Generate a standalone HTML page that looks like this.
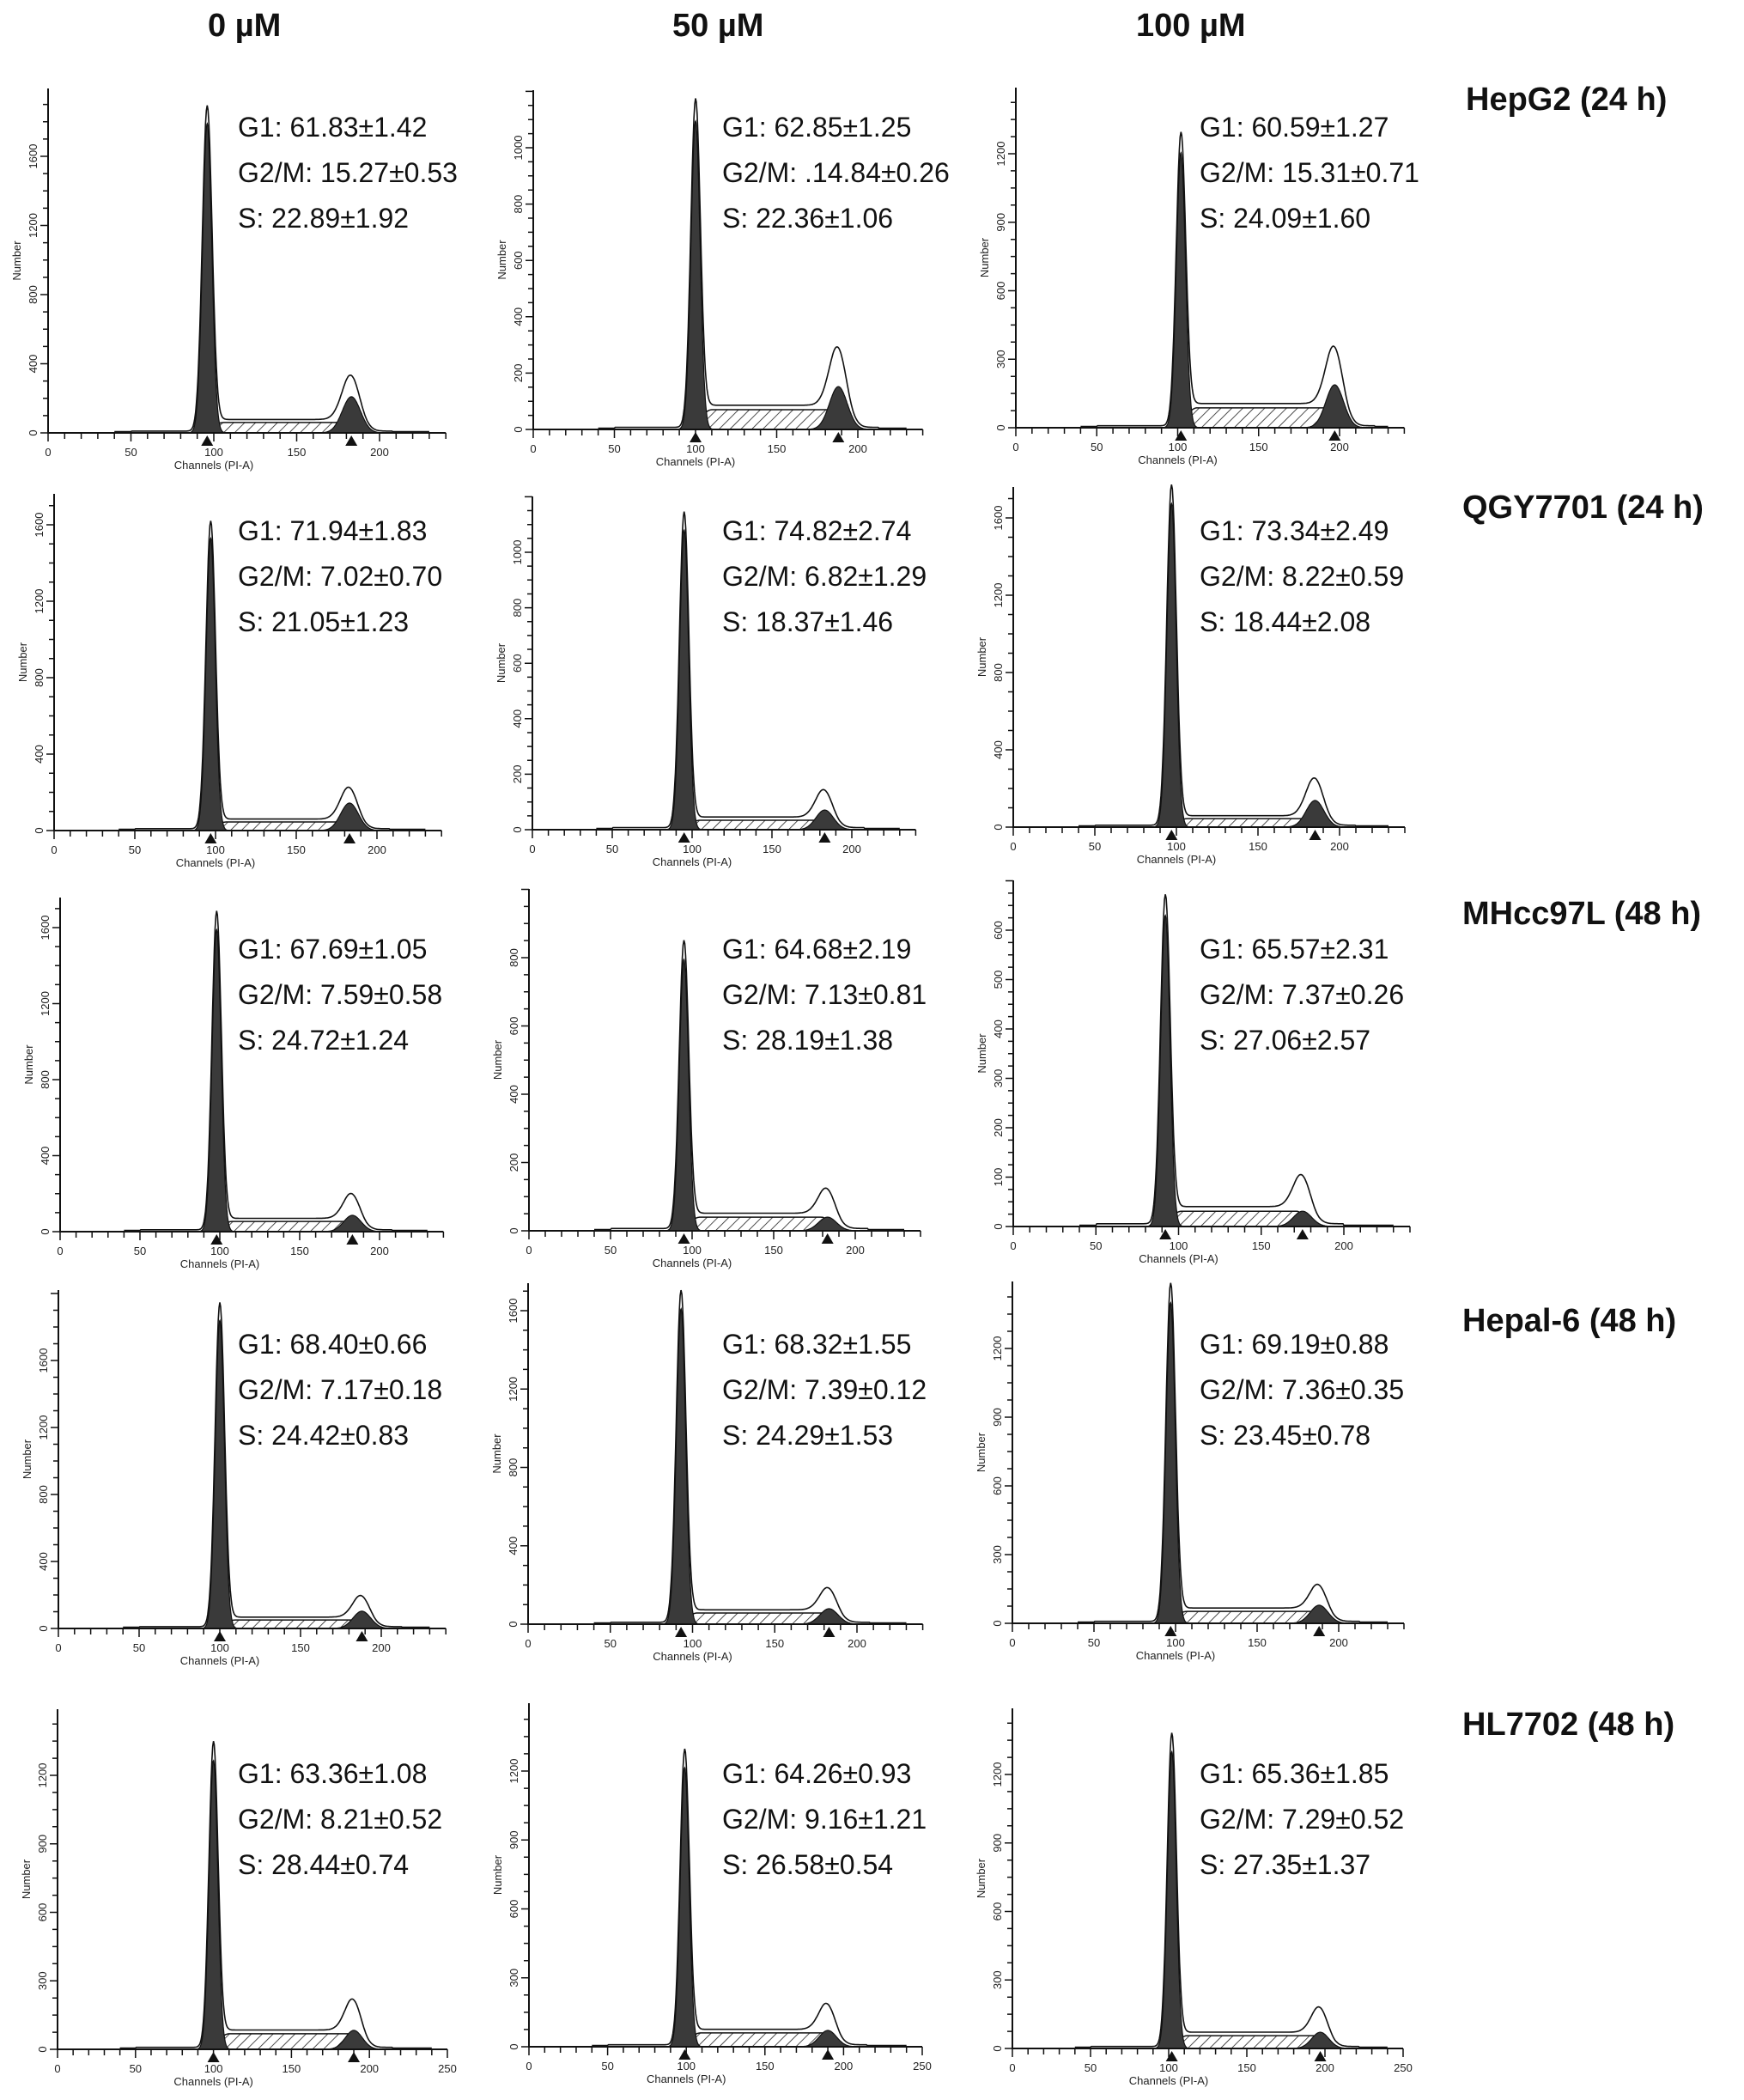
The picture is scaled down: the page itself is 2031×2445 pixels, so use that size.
<!DOCTYPE html>
<html><head><meta charset="utf-8"><style>
html,body{margin:0;padding:0;background:#fff;}
svg{display:block;font-family:"Liberation Sans",Arial,sans-serif;}
</style></head><body>
<svg id="fig" width="2031" height="2445" viewBox="0 0 2031 2445">
<defs>
<pattern id="hatch" patternUnits="userSpaceOnUse" width="9" height="9" patternTransform="rotate(45)">
<rect width="9" height="9" fill="#fff"/><line x1="0" y1="0" x2="0" y2="9" stroke="#222" stroke-width="1.6"/>
</pattern>
</defs>
<g font-weight="bold" font-size="38" fill="#111">
<text x="242" y="42">0 µM</text>
<text x="783" y="42">50 µM</text>
<text x="1323" y="42">100 µM</text>
<text x="1707" y="128">HepG2 (24 h)</text>
<text x="1703" y="603">QGY7701 (24 h)</text>
<text x="1703" y="1076">MHcc97L (48 h)</text>
<text x="1703" y="1550">Hepal-6 (48 h)</text>
<text x="1703" y="2020">HL7702 (48 h)</text>
</g>
<g id="panels"></g>
</svg>
<script>
// Data per panel (row-major: 5 rows x 3 columns)
const g1Channel = [96,100,102, 97,95,97, 98,95,92, 100,93,97, 100,99,102];
const g1Data    = [1863,1143,1256, 1595,1127,1747, 1659,830,656, 1918,1675,1459, 1317,1267,1354];
const g1Fit     = [1790,1095,1205, 1530,1080,1675, 1590,795,630, 1840,1610,1400, 1265,1215,1300];
const g2Channel = [183,188,197, 183,183,185, 183,183,175, 188,183,188, 190,190,197];
const g2Data    = [268,220,267, 175,105,204, 140,80,70, 138,123,112, 147,123,120];
const g2Fit     = [209,152,188, 144,71,138, 86,40,31, 103,79,79, 83,71,71];
const sLevel    = [60,70,87, 45,34,44, 54,40,31, 51,57,52, 68,60,56];
const yTickMax  = [1600,1000,1200, 1600,1000,1600, 1600,800,600, 1600,1600,1200, 1200,1200,1200];
const yTickStep = [400,200,300, 400,200,400, 400,200,100, 400,400,300, 300,300,300];
const statG1 = ["61.83±1.42","62.85±1.25","60.59±1.27","71.94±1.83","74.82±2.74","73.34±2.49","67.69±1.05","64.68±2.19","65.57±2.31","68.40±0.66","68.32±1.55","69.19±0.88","63.36±1.08","64.26±0.93","65.36±1.85"];
const statG2 = ["15.27±0.53",".14.84±0.26","15.31±0.71","7.02±0.70","6.82±1.29","8.22±0.59","7.59±0.58","7.13±0.81","7.37±0.26","7.17±0.18","7.39±0.12","7.36±0.35","8.21±0.52","9.16±1.21","7.29±0.52"];
const statS  = ["22.89±1.92","22.36±1.06","24.09±1.60","21.05±1.23","18.37±1.46","18.44±2.08","24.72±1.24","28.19±1.38","27.06±2.57","24.42±0.83","24.29±1.53","23.45±0.78","28.44±0.74","26.58±0.54","27.35±1.37"];

// layout (pixels)
const colXs = [[56,621,1183],[63,620,1180],[70,616,1180],[68,615,1179],[67,616,1179]];
const pxChs = [[1.93,1.89,1.885],[1.88,1.86,1.9],[1.86,1.9,1.925],[1.88,1.915,1.9],[1.816,1.832,1.82]];
const baseY = [[504,500,498],[967,966,963],[1434,1433,1428],[1896,1891,1890],[2386,2383,2385]];
const tickTopY = [[182,172,179],[611,643,603],[1080,1115,1083],[1584,1526,1570],[2067,2062,2066]];
const axTopY = [[103,105,102],[575,578,567],[1045,1035,1025],[1502,1494,1492],[1990,1983,1989]];
const statY = [159,629,1116,1576,2076];
const statX = [277,841,1397];

const NS="http://www.w3.org/2000/svg";
const root=document.getElementById('panels');
function mk(tag,attrs,parent){const e=document.createElementNS(NS,tag);for(const k in attrs)e.setAttribute(k,attrs[k]);parent.appendChild(e);return e;}
function gauss(x,mu,s,h){return h*Math.exp(-0.5*((x-mu)/s)*((x-mu)/s));}
function smooth(a,b,x){let t=(x-a)/(b-a);t=Math.max(0,Math.min(1,t));return t*t*(3-2*t);}

for(let r=0;r<5;r++){for(let c=0;c<3;c++){
  const i=r*3+c;
  const g=mk('g',{},root);
  
  
  const x0=colXs[r][c], y0=baseY[r][c];
  const maxCh = r===4?250:240, pxCh = pxChs[r][c];
  const X=ch=>x0+ch*pxCh;
  const pxU=(y0-tickTopY[r][c])/yTickMax[i];
  const Y=v=>y0-v*pxU;
  const s1=2.8, s2=5.5;
  const a=g1Channel[i], b=g2Channel[i], S=sLevel[i];
  const sFit=x=>S*smooth(a-6,a+10,x)*(1-smooth(b-4,b+10,x));
  const pts=[];for(let ch=40;ch<=maxCh-10;ch+=0.5)pts.push(ch);
  let d='M'+X(a-6)+','+y0;
  pts.forEach(ch=>{if(ch>=a-6&&ch<=b+10)d+=' L'+X(ch).toFixed(1)+','+Y(sFit(ch)).toFixed(1);});
  d+=' L'+X(b+10)+','+y0+'Z';
  const sp=mk('path',{d:d,fill:'url(#hatch)',stroke:'#111','stroke-width':1.5},g);
  
  
  [[a,s1,g1Fit[i],'g1-peak'],[b,s2,g2Fit[i],'g2m-peak']].forEach(p=>{
    let dd='M'+X(p[0]-4*p[1])+','+y0;
    for(let ch=p[0]-4*p[1];ch<=p[0]+4*p[1];ch+=0.25)dd+=' L'+X(ch).toFixed(1)+','+Y(gauss(ch,p[0],p[1],p[2])).toFixed(1);
    dd+=' L'+X(p[0]+4*p[1])+','+y0+'Z';
    const pk=mk('path',{d:dd,fill:'#3a3a3a',stroke:'#111','stroke-width':1.2},g);
    
    
  });
  let dl='';
  pts.forEach((ch,k)=>{
    let v=gauss(ch,a,s1*1.05,g1Data[i])+gauss(ch,b,s2,g2Data[i])+sFit(ch)*1.12+ (ch>50&&ch<b+25?3:0);
    dl+=(k?' L':'M')+X(ch).toFixed(1)+','+Math.min(y0,Y(v)-1.5).toFixed(1);
  });
  const env=mk('path',{d:dl,fill:'none',stroke:'#111','stroke-width':1.6},g);
  
  
  const ax=mk('path',{d:'M'+x0+','+axTopY[r][c]+' V'+y0+' H'+X(maxCh),fill:'none',stroke:'#111','stroke-width':2},g);
  
  
  let tk='';
  for(let ch=0;ch<=maxCh;ch+=10)tk+='M'+X(ch)+','+y0+' v'+(ch%50===0?10:7)+' ';
  const ys=yTickStep[i]/4;
  for(let v=0;Y(v)>=axTopY[r][c];v+=ys)tk+='M'+x0+','+Y(v).toFixed(1)+' h'+(Math.round(v/ys)%4===0?-9:-6)+' ';
  mk('path',{d:tk,stroke:'#111','stroke-width':1.5,fill:'none'},g);
  for(let ch=0;ch<=maxCh;ch+=50){
    const t=mk('text',{x:X(ch),y:y0+27,'font-size':13,'text-anchor':'middle',fill:'#222'},g);
    
    
    t.textContent=ch;
  }
  for(let v=0;v<=yTickMax[i];v+=yTickStep[i]){
    const t=mk('text',{x:0,y:0,'font-size':13,'text-anchor':'middle',fill:'#222',transform:'translate('+(x0-13)+','+Y(v).toFixed(1)+') rotate(-90)'},g);
    
    
    t.textContent=v;
  }
  const xt=mk('text',{x:X(100),y:y0+42,'font-size':13,'text-anchor':'middle',fill:'#222'},g);
  
  
  xt.textContent='Channels (PI-A)';
  const yt=mk('text',{x:0,y:0,'font-size':13,'text-anchor':'middle',fill:'#222',transform:'translate('+(x0-32)+','+((y0+axTopY[r][c])/2)+') rotate(-90)'},g);
  
  
  yt.textContent='Number';
  [a,b].forEach(ch=>{
    const m=mk('path',{d:'M'+X(ch)+','+(y0+3)+' l-7,12 h14Z',fill:'#111'},g);
    
    
  });
  const lines=['G1: '+statG1[i],'G2/M: '+statG2[i],'S: '+statS[i]];
  lines.forEach((s,k)=>{
    const t=mk('text',{x:statX[c],y:statY[r]+k*53,'font-size':32,fill:'#111'},g);
    
    
    t.textContent=s;
  });
}}
</script>
</body></html>
